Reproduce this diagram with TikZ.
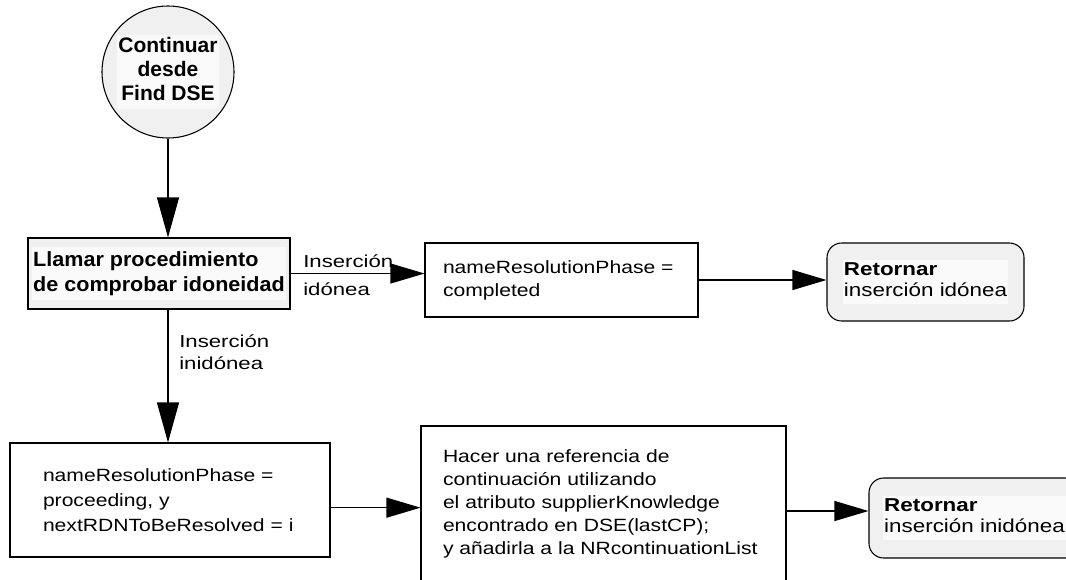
\documentclass[tikz,border=0pt]{standalone}
\usepackage{fontspec}
\setmainfont{Liberation Sans}
\newfontfamily\normtxt{Liberation Sans}[FakeStretch=1.19]
\newfontfamily\rettxt{Liberation Sans}[FakeStretch=1.2]
\newfontfamily\labtxt{Liberation Sans}[FakeStretch=1.28]
\newfontfamily\bonetxt{Liberation Sans}[FakeStretch=1.05]
\newfontfamily\circtxt{Liberation Sans}
\usetikzlibrary{arrows.meta}
\definecolor{boxgray}{HTML}{F0F0F0}
\definecolor{txtbg}{HTML}{FAFAFA}
\setlength\fboxsep{1pt}
\tikzset{
  gbox/.style={draw, line width=0.8pt, fill=boxgray, inner sep=0pt},
  wbox/.style={draw, line width=0.8pt, fill=white, inner sep=0pt, align=left,
    font=\normtxt\fontsize{13.3}{18}\selectfont},
  harr/.style={line width=0.8pt, -{Triangle[length=25.5pt,width=15pt]}},
  varr/.style={line width=0.8pt, -{Triangle[length=30pt,width=16.5pt]}},
  lab/.style={inner sep=0pt, align=left, anchor=west},
}
\begin{document}
\begin{tikzpicture}[x=0.75pt, y=-0.75pt]
\useasboundingbox (0,0) rectangle (1066,579);
\clip (0,0) rectangle (1066,579);

% start circle
\node[gbox, circle, minimum size=99pt, font=\circtxt\bfseries\fontsize{15.75}{18}\selectfont]
  (circ) at (168,72)
  {\colorbox{txtbg}{\begin{tabular}{@{}c@{}}Continuar\\desde\\Find DSE\end{tabular}}};

% call procedure
\node[gbox, minimum width=196.5pt, minimum height=53.25pt,
  font=\bonetxt\bfseries\fontsize{15.4}{18.75}\selectfont]
  (b1) at (159,273.5)
  {\colorbox{txtbg}{\begin{tabular}{@{}l@{}}Llamar procedimiento\\de comprobar idoneidad\end{tabular}}};

% completed
\node[wbox, minimum width=204.75pt, minimum height=55.5pt, text width=177.75pt,
  font=\normtxt\fontsize{13.3}{17.25}\selectfont]
  (b2) at (561.5,280)
  {nameResolutionPhase~=\\completed};

% return suitable
\node[gbox, rounded corners=11pt, minimum width=147.75pt, minimum height=58.5pt,
  font=\rettxt\fontsize{14}{15.4}\selectfont]
  (r1) at (925.5,282)
  {\colorbox{txtbg}{\begin{tabular}{@{}l@{}}\textbf{Retornar}\\inserción~idónea\end{tabular}}};

% proceeding
\node[wbox, minimum width=240pt, minimum height=85.5pt, text width=190.5pt,
  font=\normtxt\fontsize{13.3}{18.75}\selectfont]
  (b3) at (170,500)
  {nameResolutionPhase~=\\proceeding,~y\\nextRDNToBeResolved~=~i};

% continuation reference
\node[wbox, minimum width=273.75pt, minimum height=117pt, text width=240.75pt,
  font=\normtxt\fontsize{13.3}{17.4}\selectfont]
  (b4) at (603.5,504)
  {Hacer~una~referencia~de\\continuación~utilizando\\el~atributo~supplierKnowledge\\encontrado~en~DSE(lastCP);\\y~añadirla~a~la~NRcontinuationList};

% return unsuitable
\node[gbox, rounded corners=11pt, minimum width=158.25pt, minimum height=60pt,
  font=\rettxt\fontsize{14}{15.4}\selectfont]
  (r2) at (974.5,518)
  {\colorbox{txtbg}{\begin{tabular}{@{}l@{}}\textbf{Retornar}\\inserción~inidónea\end{tabular}}};

% labels
\node[lab, font=\labtxt\fontsize{13}{21}\selectfont] (l1) at (303,275)
  {Inserción\\idónea};
\node[lab, font=\labtxt\fontsize{13}{16.5}\selectfont] (l2) at (179,352)
  {Inserción\\inidónea};

% connectors
\draw[varr] (circ.south) -- (circ.south |- b1.north);
\draw[harr] (b1.east) -- (b1.east -| b2.west);
\draw[harr] (b2.east) -- (b2.east -| r1.west);
\draw[varr] (circ.south |- b1.south) -- (circ.south |- b3.north);
\draw[harr] ([yshift=-5.75pt]b3.east) -- ([yshift=-5.75pt]b3.east -| b4.west);
\draw[harr] ([yshift=-5.25pt]b4.east) -- ([yshift=-5.25pt]b4.east -| r2.west);
\end{tikzpicture}
\end{document}
